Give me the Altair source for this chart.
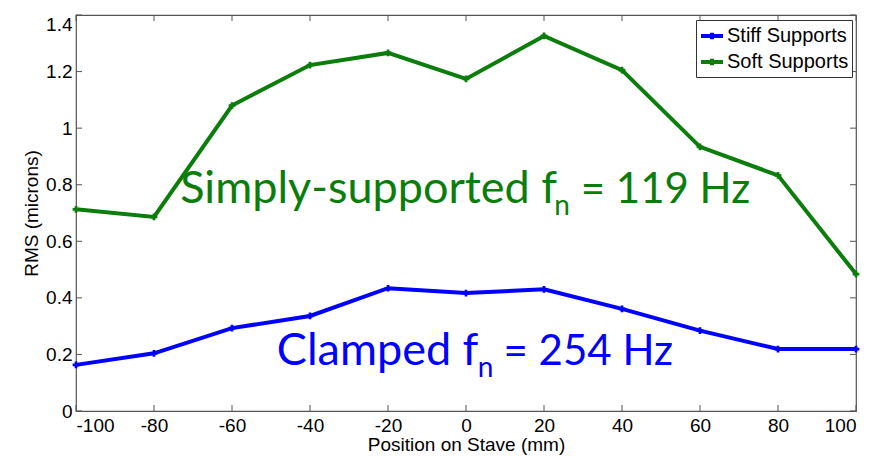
import altair as alt
import pandas as pd

positions = [-100, -80, -60, -40, -20, 0, 20, 40, 60, 80, 100]
stiff = [0.163, 0.204, 0.293, 0.336, 0.434, 0.417, 0.430, 0.361, 0.284, 0.219, 0.219]
soft = [0.713, 0.686, 1.080, 1.223, 1.266, 1.174, 1.326, 1.205, 0.934, 0.833, 0.484]
series = ["Stiff Supports", "Soft Supports"]
colors = ["#0000ff", "#0b7d0b"]
x_ticks = [-100, -80, -60, -40, -20, 0, 20, 40, 60, 80, 100]
y_ticks = [0, 0.2, 0.4, 0.6, 0.8, 1.0, 1.2, 1.4]

# annotation pieces: text, x (data), y (data), font size, colour index
ann_text = ["Simply-supported f", "n", "= 119 Hz", "Clamped f", "n", "= 254 Hz"]
ann_x = [-73.3, 22.6, 29.4, -48.5, 3.0, 9.6]
ann_y = [0.735, 0.693, 0.735, 0.163, 0.120, 0.163]
ann_size = [45, 28, 42, 45, 28, 42]
ann_col = [1, 1, 1, 0, 0, 0]

W, H = 780, 396

df = pd.DataFrame({
    "pos": positions * 2,
    "rms": stiff + soft,
    "series": [series[0]] * len(positions) + [series[1]] * len(positions),
})

color = alt.Color(
    "series:N",
    scale=alt.Scale(domain=series, range=colors),
    legend=alt.Legend(
        title=None,
        orient="none",
        legendX=620,
        legendY=5,
        fillColor="white",
        strokeColor="#333333",
        padding=3,
        labelFont="Liberation Sans",
        labelFontSize=20,
        labelColor="black",
        labelOffset=2,
        rowPadding=1,
        symbolType="M-1,0H1M0,-0.3V0.3",
        symbolSize=484,
        symbolStrokeWidth=4,
    ),
)

xs = alt.Scale(domain=[-100, 100], nice=False, zero=False)
ys = alt.Scale(domain=[0, 1.4], nice=False)

xenc = alt.X(
    "pos:Q",
    scale=xs,
    axis=alt.Axis(
        values=x_ticks,
        title="Position on Stave (mm)",
        labelExpr="'' + datum.value",
        tickSize=0,
        domain=False,
        grid=False,
        labelPadding=5,
        titlePadding=0,
    ),
)
yenc = alt.Y(
    "rms:Q",
    scale=ys,
    axis=alt.Axis(
        values=y_ticks,
        title="RMS (microns)",
        format="~g",
        tickSize=0,
        domain=False,
        grid=False,
        labelPadding=4,
        titlePadding=4,
        labelBaseline={"condition": {"test": "datum.value >= 1.4", "value": "top"}, "value": "middle"},
    ),
)

base = alt.Chart(df)
lines = base.mark_line(strokeWidth=4).encode(x=xenc, y=yenc, color=color)
points = base.mark_point(shape="cross", filled=True, size=45, opacity=1).encode(
    x="pos:Q", y="rms:Q", color=alt.Color("series:N", scale=alt.Scale(domain=series, range=colors), legend=None)
)

ann_df = pd.DataFrame({
    "t": ann_text,
    "x": ann_x,
    "y": ann_y,
    "s": ann_size,
    "c": [colors[i] for i in ann_col],
})
ann = alt.Chart(ann_df).mark_text(
    align="left", baseline="alphabetic", font="Lato"
).encode(
    x=alt.X("x:Q", scale=xs),
    y=alt.Y("y:Q", scale=ys),
    text="t:N",
    size=alt.Size("s:Q", scale=None),
    color=alt.Color("c:N", scale=None),
)

xt = pd.DataFrame({"v": x_ticks})
yt = pd.DataFrame({"v": y_ticks})
tick_col = "#555555"
top_ticks = alt.Chart(xt).mark_rule(color=tick_col, strokeWidth=1).encode(
    x=alt.X("v:Q", scale=xs), y=alt.value(0), y2=alt.value(6))
bot_ticks = alt.Chart(xt).mark_rule(color=tick_col, strokeWidth=1).encode(
    x=alt.X("v:Q", scale=xs), y=alt.value(H), y2=alt.value(H - 6))
left_ticks = alt.Chart(yt).mark_rule(color=tick_col, strokeWidth=1).encode(
    y=alt.Y("v:Q", scale=ys), x=alt.value(0), x2=alt.value(6))
right_ticks = alt.Chart(yt).mark_rule(color=tick_col, strokeWidth=1).encode(
    y=alt.Y("v:Q", scale=ys), x=alt.value(W), x2=alt.value(W - 6))

chart = alt.layer(
    top_ticks, bot_ticks, left_ticks, right_ticks, lines, points, ann
).properties(
    width=W,
    height=H,
    background="white",
    autosize=alt.AutoSizeParams(type="none"),
    padding={"left": 68, "top": 7, "right": 23, "bottom": 47},
).configure_view(
    stroke="#555555", strokeWidth=1.2
).configure_axis(
    labelFont="Liberation Sans",
    labelFontSize=19,
    labelColor="black",
    titleFont="Liberation Sans",
    titleFontSize=19,
    titleFontWeight="normal",
    titleColor="black",
)

chart.save("out.html", embed_options={"renderer": "svg", "actions": False})
